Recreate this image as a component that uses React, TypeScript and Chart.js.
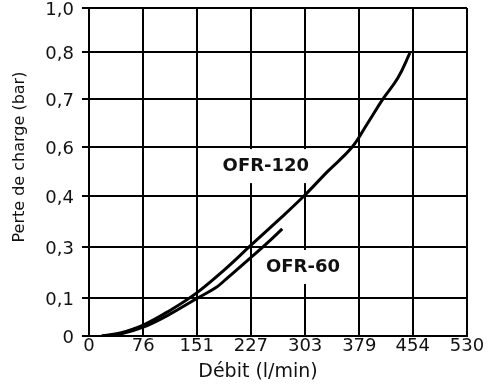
import React, { useEffect, useRef } from "react";
import { Chart, registerables } from "chart.js";

Chart.register(...registerables);

// Axis ticks (l/min and bar)
const xTickValues = [0, 76, 151, 227, 303, 379, 454, 530];
const yTickValues = [0, 0.112, 0.262, 0.412, 0.556, 0.697, 0.835, 0.965];
const yTickLabels = ["0", "0,1", "0,3", "0,4", "0,6", "0,7", "0,8", "1,0"];

// Series: flow (l/min) vs pressure drop (bar)
const ofr120Flow = [18, 44, 76, 114, 151, 191, 226, 264, 300, 334, 369, 390, 412, 433, 450];
const ofr120Loss = [0, 0.009, 0.032, 0.076, 0.127, 0.197, 0.265, 0.338, 0.409, 0.483, 0.556, 0.624, 0.697, 0.759, 0.833];
const ofr60Flow = [18, 44, 76, 114, 150, 177, 191, 226, 247, 271];
const ofr60Loss = [0, 0.006, 0.026, 0.065, 0.109, 0.141, 0.165, 0.229, 0.268, 0.315];

const seriesNames = ["OFR-120", "OFR-60"];
const nameFlow = [248, 300];
const nameLoss = [0.5, 0.203];

const xTitle = "Débit (l/min)";
const yTitle = "Perte de charge (bar)";

const FONT = "'DejaVu Sans', sans-serif";

const overlay = {
  id: "overlay",
  beforeDatasetsDraw(chart: any) {
    const ctx = chart.ctx;
    const xs = chart.scales.x;
    const ys = chart.scales.y;
    ctx.save();
    ctx.font = `bold 18px ${FONT}`;
    ctx.textAlign = "center";
    ctx.textBaseline = "middle";
    seriesNames.forEach((t, i) => {
      const cx = xs.getPixelForValue(nameFlow[i]);
      const cy = ys.getPixelForValue(nameLoss[i]);
      const w = ctx.measureText(t).width + 8;
      const h = 34;
      ctx.fillStyle = "#ffffff";
      ctx.fillRect(cx - w / 2, cy - h / 2, w, h);
      ctx.fillStyle = "#111111";
      ctx.fillText(t, cx, cy);
    });
    ctx.restore();
  },
  afterDraw(chart: any) {
    const ctx = chart.ctx;
    const a = chart.chartArea;
    ctx.save();
    ctx.fillStyle = "#111111";
    ctx.textAlign = "center";
    ctx.textBaseline = "middle";
    ctx.font = `19px ${FONT}`;
    ctx.fillText(xTitle, (a.left + a.right) / 2 - 20, a.bottom + 36);
    ctx.translate(20, (a.top + a.bottom) / 2 - 15);
    ctx.rotate(-Math.PI / 2);
    ctx.font = `16px ${FONT}`;
    ctx.fillText(yTitle, 0, 0);
    ctx.restore();
  },
};

export default function App() {
  const ref = useRef<HTMLCanvasElement | null>(null);

  useEffect(() => {
    if (!ref.current) return;
    const mk = (fx: number[], fy: number[]) => fx.map((x, i) => ({ x, y: fy[i] }));
    const chart = new Chart(ref.current, {
      type: "line",
      data: {
        datasets: [
          {
            label: seriesNames[0],
            data: mk(ofr120Flow, ofr120Loss),
            borderColor: "#000000",
            borderWidth: 3,
            pointRadius: 0,
            tension: 0.4,
            fill: false,
          },
          {
            label: seriesNames[1],
            data: mk(ofr60Flow, ofr60Loss),
            borderColor: "#000000",
            borderWidth: 3,
            pointRadius: 0,
            tension: 0.4,
            fill: false,
          },
        ],
      },
      options: {
        animation: false,
        responsive: true,
        maintainAspectRatio: false,
        layout: { padding: { left: 0, top: 0, right: 32, bottom: 0 } },
        plugins: {
          legend: { display: false },
          tooltip: { enabled: false },
        },
        scales: {
          x: {
            type: "linear",
            min: 0,
            max: 530,
            afterBuildTicks: (s: any) => {
              s.ticks = xTickValues.map((v) => ({ value: v }));
            },
            afterFit: (s: any) => {
              s.height = 53;
            },
            grid: { color: "#000000", lineWidth: 2, drawTicks: false },
            border: { display: true, color: "#000000", width: 2 },
            ticks: {
              color: "#111111",
              font: { family: FONT, size: 18 },
              padding: 0,
              maxRotation: 0,
              autoSkip: false,
              callback: (v: any) => String(v),
            },
          },
          y: {
            type: "linear",
            min: 0,
            max: 0.965,
            afterBuildTicks: (s: any) => {
              s.ticks = yTickValues.map((v) => ({ value: v }));
            },
            afterFit: (s: any) => {
              s.width = 89;
            },
            grid: { color: "#000000", lineWidth: 2, drawTicks: true, tickLength: 7 },
            border: { display: true, color: "#000000", width: 2 },
            ticks: {
              color: "#111111",
              font: { family: FONT, size: 18, lineHeight: 0.01 },
              padding: 8,
              autoSkip: false,
              labelOffset: 2,
              callback: (v: any) => {
                const i = yTickValues.indexOf(Number(v));
                return i >= 0 ? yTickLabels[i] : "";
              },
            },
          },
        },
      },
      plugins: [overlay],
    } as any);
    return () => chart.destroy();
  }, []);

  return (
    <div style={{ position: "fixed", left: 0, top: 0, width: 499, height: 389, background: "#fff" }}>
      <canvas ref={ref} />
    </div>
  );
}
